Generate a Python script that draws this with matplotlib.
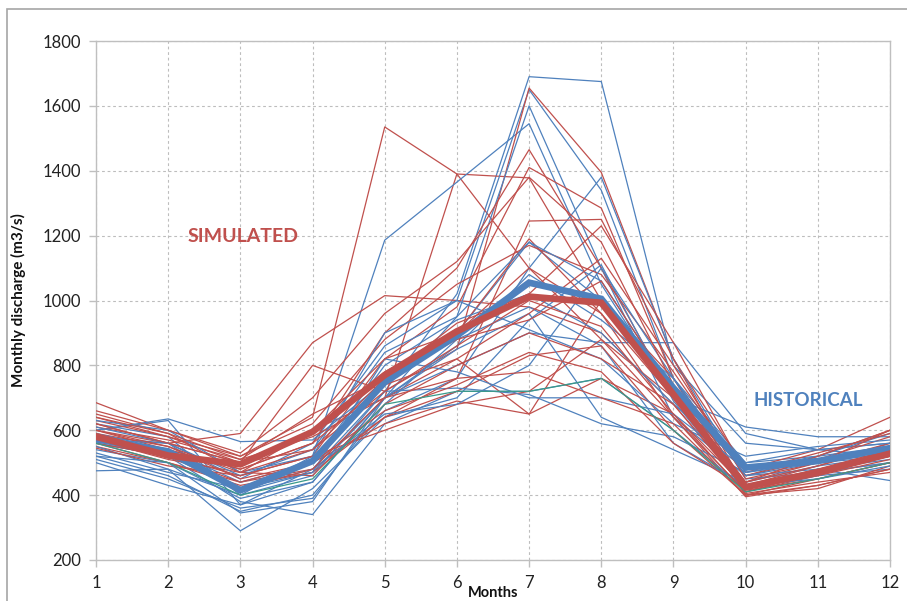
import matplotlib
matplotlib.use("Agg")
import matplotlib.pyplot as plt
from matplotlib.patches import Rectangle

plt.rcParams['font.family'] = ['Lato', 'DejaVu Sans']

months = [1, 2, 3, 4, 5, 6, 7, 8, 9, 10, 11, 12]

# Simulated (thin red lines)
simulated = [
    [685, 600, 520, 640, 1535, 1390, 1100, 880, 700, 440, 500, 560],
    [650, 590, 470, 600, 700, 1390, 1378, 1000, 760, 460, 520, 600],
    [620, 560, 590, 870, 1015, 1000, 980, 900, 680, 420, 480, 520],
    [640, 580, 500, 800, 720, 850, 1655, 1395, 820, 480, 540, 640],
    [600, 540, 480, 560, 900, 1100, 1465, 1100, 700, 410, 460, 530],
    [580, 520, 460, 520, 820, 980, 1410, 1285, 760, 400, 450, 500],
    [560, 500, 440, 480, 640, 760, 1245, 1250, 820, 420, 470, 540],
    [570, 530, 490, 600, 780, 900, 1190, 960, 640, 395, 430, 480],
    [610, 570, 510, 580, 700, 820, 650, 1000, 720, 430, 490, 560],
    [590, 550, 450, 500, 620, 690, 650, 760, 650, 405, 440, 470],
    [550, 500, 430, 470, 640, 720, 830, 860, 600, 400, 420, 490],
    [630, 580, 520, 620, 880, 1050, 1170, 1080, 780, 460, 510, 580],
    [600, 560, 500, 540, 760, 930, 1020, 1230, 870, 470, 530, 590],
    [570, 510, 470, 460, 680, 800, 900, 820, 680, 415, 450, 500],
    [545, 490, 460, 520, 600, 680, 720, 880, 640, 410, 470, 520],
    [660, 600, 530, 700, 960, 1120, 1380, 1180, 740, 440, 490, 550],
    [580, 540, 480, 560, 740, 820, 960, 1130, 800, 450, 500, 600],
    [560, 520, 440, 500, 660, 740, 840, 780, 560, 420, 460, 510],
    [620, 560, 500, 600, 820, 900, 1100, 960, 700, 430, 480, 540],
    [590, 530, 420, 480, 700, 760, 780, 700, 620, 400, 430, 480],
    [640, 590, 510, 650, 760, 880, 940, 1060, 720, 440, 520, 600],
    [600, 550, 470, 540, 720, 860, 1000, 920, 650, 425, 470, 520],
]

# Historical (thin blue lines)
historical = [
    [600, 630, 370, 480, 720, 1020, 1690, 1675, 800, 560, 540, 560],
    [560, 520, 420, 470, 700, 800, 900, 870, 870, 590, 540, 520],
    [620, 580, 400, 520, 1186, 1365, 1545, 1050, 700, 480, 500, 540],
    [580, 560, 450, 560, 860, 1000, 1650, 1340, 760, 500, 520, 590],
    [540, 500, 390, 440, 700, 950, 1600, 1100, 640, 460, 480, 510],
    [520, 460, 350, 400, 660, 760, 1100, 1380, 820, 450, 470, 500],
    [475, 480, 290, 420, 640, 700, 940, 1110, 690, 420, 460, 480],
    [600, 635, 565, 570, 750, 900, 1180, 1000, 700, 610, 580, 580],
    [560, 520, 380, 340, 620, 720, 720, 760, 600, 420, 480, 445],
    [510, 450, 360, 390, 680, 880, 980, 860, 560, 430, 470, 500],
    [590, 540, 440, 500, 800, 940, 1020, 900, 680, 500, 540, 560],
    [500, 430, 370, 440, 700, 850, 960, 640, 540, 440, 490, 520],
    [630, 600, 470, 520, 900, 1000, 910, 820, 620, 520, 550, 570],
    [550, 480, 400, 460, 720, 730, 710, 620, 580, 470, 510, 540],
    [570, 560, 460, 540, 840, 950, 1180, 1060, 720, 470, 500, 530],
    [530, 470, 420, 480, 650, 680, 800, 1100, 760, 430, 450, 490],
    [610, 560, 410, 470, 820, 780, 700, 700, 650, 480, 520, 550],
    [520, 500, 345, 380, 700, 860, 1080, 940, 760, 460, 500, 520],
]
historical_teal = [560, 500, 400, 450, 680, 720, 720, 760, 600, 410, 450, 500]

# Thick mean lines
simulated_mean = [580, 522, 495, 595, 770, 905, 1012, 993, 710, 425, 470, 528]
historical_mean = [572, 535, 415, 505, 748, 892, 1055, 1005, 730, 485, 505, 545]

RED = '#C0504D'
BLUE = '#4F81BD'
TEAL = '#3A9A8A'

fig = plt.figure(figsize=(9.07, 6.01), dpi=100)
ax = fig.add_axes([96/907, 1 - 560/601, (890 - 96)/907, (560 - 41)/601])

n = max(len(simulated), len(historical))
for i in range(n):
    if i < len(historical):
        ax.plot(months, historical[i], color=BLUE, lw=0.9, zorder=3)
    if i < len(simulated):
        ax.plot(months, simulated[i], color=RED, lw=0.9, zorder=3)
ax.plot(months, historical_teal, color=TEAL, lw=0.9, zorder=3)

ax.plot(months, historical_mean, color=BLUE, lw=4.8, zorder=5, solid_joinstyle='miter')
ax.plot(months, simulated_mean, color=RED, lw=4.8, zorder=6, solid_joinstyle='miter')

ax.set_xlim(1, 12)
ax.set_ylim(200, 1800)
ax.set_xticks(months)
ax.set_yticks(range(200, 1801, 200))

ax.grid(True, color='#BDBDBD', lw=0.8, linestyle=(0, (2.5, 2.5)), zorder=0)
for s in ax.spines.values():
    s.set_color('#BFBFBF')
    s.set_linewidth(1.0)
ax.tick_params(axis='both', colors='#BFBFBF', labelcolor='#222222',
               labelsize=12, length=5, width=1.0, direction='out')
ax.tick_params(axis='y', pad=6)
ax.tick_params(axis='x', pad=6)

ax.set_ylabel('Monthly discharge (m3/s)', fontsize=11, fontweight='bold',
              color='#111111', labelpad=12)

fig.text(493/907, 1 - 593/601, 'Months', fontsize=10.5, fontweight='bold',
         color='#111111', ha='center', va='center')
fig.text(243/907, 1 - 237/601, 'SIMULATED', fontsize=14, fontweight='bold',
         color=RED, ha='center', va='center')
fig.text(808/907, 1 - 401/601, 'HISTORICAL', fontsize=13.5, fontweight='bold',
         color=BLUE, ha='center', va='center')

fig.add_artist(Rectangle((7/907, -0.05), 1.2, 1 - 9/601 + 0.05,
                         transform=fig.transFigure, fill=False,
                         edgecolor='#A6A6A6', lw=1.2))

fig.savefig('out.png', dpi=100)
